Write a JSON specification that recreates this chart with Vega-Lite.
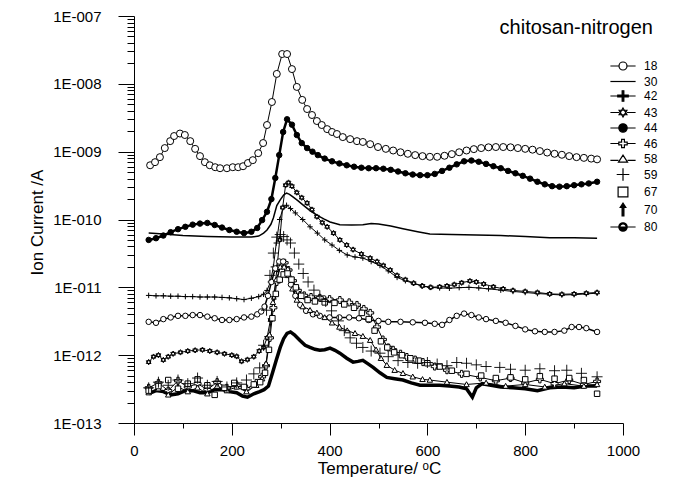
{
"$schema":"https://vega.github.io/schema/vega-lite/v6.json",
"autosize":{"type":"none"},
"padding":{"left":134,"top":16,"right":57,"bottom":59},
"width":489,"height":407,
"background":"white",
"config":{"view":{"stroke":null},"font":"Liberation Sans",
 "legend":{"labelColor":"#000000","labelFont":"Liberation Sans"},
 "axis":{"grid":false,"domainColor":"black","tickColor":"black","labelColor":"black","titleColor":"black","labelFont":"Liberation Sans","titleFont":"Liberation Sans","titleFontWeight":"normal","labelFontSize":15,"titleFontSize":17,"domainWidth":1,"tickWidth":1}},
"title":{"text":"chitosan-nitrogen","anchor":"end","frame":"group","font":"Liberation Sans","fontSize":20,"fontWeight":"normal","color":"black","dx":30,"dy":45,"offset":0,"baseline":"alphabetic"},
"data":{"values":[
{"series":"18","temp":33,"current":6.3e-10},{"series":"18","temp":43,"current":7.0e-10},{"series":"18","temp":53,"current":8.3e-10},{"series":"18","temp":63,"current":1.13e-9},{"series":"18","temp":74,"current":1.43e-9},{"series":"18","temp":82,"current":1.7e-9},{"series":"18","temp":94,"current":1.85e-9},{"series":"18","temp":104,"current":1.76e-9},{"series":"18","temp":115,"current":1.43e-9},{"series":"18","temp":125,"current":1.1e-9},{"series":"18","temp":135,"current":8.6e-10},{"series":"18","temp":145,"current":7.0e-10},{"series":"18","temp":155,"current":6.3e-10},{"series":"18","temp":166,"current":5.9e-10},{"series":"18","temp":176,"current":5.7e-10},{"series":"18","temp":190,"current":5.7e-10},{"series":"18","temp":202,"current":5.9e-10},{"series":"18","temp":213,"current":5.9e-10},{"series":"18","temp":223,"current":6.1e-10},{"series":"18","temp":233,"current":6.8e-10},{"series":"18","temp":243,"current":7.5e-10},{"series":"18","temp":254,"current":9.5e-10},{"series":"18","temp":264,"current":1.34e-9},{"series":"18","temp":272,"current":2.47e-9},{"series":"18","temp":282,"current":5.4e-9},{"series":"18","temp":292,"current":1.4e-8},{"series":"18","temp":303,"current":2.75e-8},{"series":"18","temp":313,"current":2.75e-8},{"series":"18","temp":323,"current":1.65e-8},{"series":"18","temp":333,"current":9.0e-9},{"series":"18","temp":344,"current":5.8e-9},{"series":"18","temp":354,"current":4.25e-9},{"series":"18","temp":364,"current":3.47e-9},{"series":"18","temp":374,"current":2.83e-9},{"series":"18","temp":384,"current":2.47e-9},{"series":"18","temp":395,"current":2.15e-9},{"series":"18","temp":405,"current":1.95e-9},{"series":"18","temp":415,"current":1.82e-9},{"series":"18","temp":427,"current":1.64e-9},{"series":"18","temp":442,"current":1.53e-9},{"series":"18","temp":456,"current":1.43e-9},{"series":"18","temp":468,"current":1.39e-9},{"series":"18","temp":483,"current":1.29e-9},{"series":"18","temp":499,"current":1.17e-9},{"series":"18","temp":515,"current":1.1e-9},{"series":"18","temp":530,"current":1.04e-9},{"series":"18","temp":545,"current":9.8e-10},{"series":"18","temp":560,"current":9.3e-10},{"series":"18","temp":575,"current":8.9e-10},{"series":"18","temp":590,"current":8.6e-10},{"series":"18","temp":605,"current":8.4e-10},{"series":"18","temp":620,"current":8.4e-10},{"series":"18","temp":635,"current":8.7e-10},{"series":"18","temp":650,"current":9.2e-10},{"series":"18","temp":665,"current":9.8e-10},{"series":"18","temp":680,"current":1.04e-9},{"series":"18","temp":695,"current":1.09e-9},{"series":"18","temp":710,"current":1.13e-9},{"series":"18","temp":725,"current":1.16e-9},{"series":"18","temp":740,"current":1.17e-9},{"series":"18","temp":755,"current":1.17e-9},{"series":"18","temp":770,"current":1.16e-9},{"series":"18","temp":785,"current":1.13e-9},{"series":"18","temp":800,"current":1.1e-9},{"series":"18","temp":815,"current":1.07e-9},{"series":"18","temp":830,"current":1.02e-9},{"series":"18","temp":845,"current":9.7e-10},{"series":"18","temp":860,"current":9.3e-10},{"series":"18","temp":875,"current":9.0e-10},{"series":"18","temp":890,"current":8.6e-10},{"series":"18","temp":905,"current":8.3e-10},{"series":"18","temp":920,"current":8.1e-10},{"series":"18","temp":935,"current":7.9e-10},{"series":"18","temp":947,"current":7.7e-10},
{"series":"44","temp":30,"current":5.0e-11},{"series":"44","temp":45,"current":5.3e-11},{"series":"44","temp":60,"current":5.8e-11},{"series":"44","temp":75,"current":6.5e-11},{"series":"44","temp":90,"current":7.2e-11},{"series":"44","temp":105,"current":7.8e-11},{"series":"44","temp":120,"current":8.4e-11},{"series":"44","temp":135,"current":8.7e-11},{"series":"44","temp":150,"current":8.9e-11},{"series":"44","temp":165,"current":8.3e-11},{"series":"44","temp":180,"current":7.6e-11},{"series":"44","temp":195,"current":7.0e-11},{"series":"44","temp":210,"current":6.6e-11},{"series":"44","temp":225,"current":6.3e-11},{"series":"44","temp":240,"current":6.6e-11},{"series":"44","temp":252,"current":7.5e-11},{"series":"44","temp":262,"current":9.8e-11},{"series":"44","temp":272,"current":1.3e-10},{"series":"44","temp":281,"current":2.0e-10},{"series":"44","temp":289,"current":4.1e-10},{"series":"44","temp":297,"current":8.9e-10},{"series":"44","temp":305,"current":1.95e-9},{"series":"44","temp":313,"current":3.0e-9},{"series":"44","temp":323,"current":2.5e-9},{"series":"44","temp":333,"current":1.76e-9},{"series":"44","temp":343,"current":1.34e-9},{"series":"44","temp":354,"current":1.13e-9},{"series":"44","temp":365,"current":1.0e-9},{"series":"44","temp":376,"current":8.9e-10},{"series":"44","temp":390,"current":7.9e-10},{"series":"44","temp":405,"current":7.2e-10},{"series":"44","temp":420,"current":6.7e-10},{"series":"44","temp":435,"current":6.3e-10},{"series":"44","temp":450,"current":6.0e-10},{"series":"44","temp":465,"current":5.8e-10},{"series":"44","temp":480,"current":5.7e-10},{"series":"44","temp":495,"current":5.7e-10},{"series":"44","temp":510,"current":5.6e-10},{"series":"44","temp":525,"current":5.4e-10},{"series":"44","temp":540,"current":5.1e-10},{"series":"44","temp":555,"current":4.8e-10},{"series":"44","temp":570,"current":4.6e-10},{"series":"44","temp":585,"current":4.5e-10},{"series":"44","temp":600,"current":4.5e-10},{"series":"44","temp":615,"current":4.7e-10},{"series":"44","temp":630,"current":5.2e-10},{"series":"44","temp":645,"current":5.8e-10},{"series":"44","temp":660,"current":6.5e-10},{"series":"44","temp":675,"current":7.2e-10},{"series":"44","temp":690,"current":7.4e-10},{"series":"44","temp":705,"current":7.1e-10},{"series":"44","temp":720,"current":6.6e-10},{"series":"44","temp":735,"current":6.1e-10},{"series":"44","temp":750,"current":5.7e-10},{"series":"44","temp":765,"current":5.2e-10},{"series":"44","temp":780,"current":4.8e-10},{"series":"44","temp":795,"current":4.4e-10},{"series":"44","temp":810,"current":4.0e-10},{"series":"44","temp":825,"current":3.6e-10},{"series":"44","temp":840,"current":3.3e-10},{"series":"44","temp":855,"current":3.1e-10},{"series":"44","temp":870,"current":3.05e-10},{"series":"44","temp":885,"current":3.1e-10},{"series":"44","temp":900,"current":3.2e-10},{"series":"44","temp":915,"current":3.3e-10},{"series":"44","temp":930,"current":3.4e-10},{"series":"44","temp":947,"current":3.6e-10},
{"series":"30","temp":30,"current":6.3e-11},{"series":"30","temp":60,"current":6.1e-11},{"series":"30","temp":100,"current":5.8e-11},{"series":"30","temp":150,"current":5.6e-11},{"series":"30","temp":200,"current":5.5e-11},{"series":"30","temp":240,"current":5.5e-11},{"series":"30","temp":255,"current":5.7e-11},{"series":"30","temp":265,"current":6.3e-11},{"series":"30","temp":272,"current":7.0e-11},{"series":"30","temp":280,"current":8.5e-11},{"series":"30","temp":285,"current":1.05e-10},{"series":"30","temp":292,"current":1.6e-10},{"series":"30","temp":299,"current":1.95e-10},{"series":"30","temp":306,"current":2.3e-10},{"series":"30","temp":312,"current":2.45e-10},{"series":"30","temp":318,"current":2.35e-10},{"series":"30","temp":325,"current":2.15e-10},{"series":"30","temp":335,"current":1.9e-10},{"series":"30","temp":346,"current":1.63e-10},{"series":"30","temp":360,"current":1.35e-10},{"series":"30","temp":374,"current":1.16e-10},{"series":"30","temp":388,"current":1.02e-10},{"series":"30","temp":401,"current":9.2e-11},{"series":"30","temp":421,"current":8.4e-11},{"series":"30","temp":445,"current":8.3e-11},{"series":"30","temp":468,"current":8.4e-11},{"series":"30","temp":485,"current":8.7e-11},{"series":"30","temp":500,"current":8.6e-11},{"series":"30","temp":525,"current":8.0e-11},{"series":"30","temp":550,"current":7.3e-11},{"series":"30","temp":580,"current":6.6e-11},{"series":"30","temp":605,"current":6.1e-11},{"series":"30","temp":650,"current":6.0e-11},{"series":"30","temp":700,"current":5.9e-11},{"series":"30","temp":750,"current":5.8e-11},{"series":"30","temp":800,"current":5.6e-11},{"series":"30","temp":850,"current":5.4e-11},{"series":"30","temp":900,"current":5.4e-11},{"series":"30","temp":947,"current":5.3e-11},
{"series":"42","temp":30,"current":7.6e-12},{"series":"42","temp":45,"current":7.5e-12},{"series":"42","temp":60,"current":7.5e-12},{"series":"42","temp":75,"current":7.4e-12},{"series":"42","temp":90,"current":7.4e-12},{"series":"42","temp":105,"current":7.3e-12},{"series":"42","temp":120,"current":7.3e-12},{"series":"42","temp":135,"current":7.2e-12},{"series":"42","temp":150,"current":7.2e-12},{"series":"42","temp":165,"current":7.2e-12},{"series":"42","temp":180,"current":7.1e-12},{"series":"42","temp":195,"current":7.0e-12},{"series":"42","temp":210,"current":6.8e-12},{"series":"42","temp":225,"current":6.6e-12},{"series":"42","temp":240,"current":6.9e-12},{"series":"42","temp":255,"current":7.3e-12},{"series":"42","temp":265,"current":7.9e-12},{"series":"42","temp":272,"current":9.0e-12},{"series":"42","temp":279,"current":1.2e-11},{"series":"42","temp":285,"current":2.0e-11},{"series":"42","temp":291,"current":4.5e-11},{"series":"42","temp":298,"current":1.0e-10},{"series":"42","temp":305,"current":1.5e-10},{"series":"42","temp":312,"current":1.62e-10},{"series":"42","temp":320,"current":1.45e-10},{"series":"42","temp":330,"current":1.25e-10},{"series":"42","temp":345,"current":1.0e-10},{"series":"42","temp":360,"current":7.8e-11},{"series":"42","temp":375,"current":6.3e-11},{"series":"42","temp":390,"current":5.0e-11},{"series":"42","temp":405,"current":4.2e-11},{"series":"42","temp":420,"current":3.5e-11},{"series":"42","temp":436,"current":3.0e-11},{"series":"42","temp":452,"current":2.8e-11},{"series":"42","temp":468,"current":2.7e-11},{"series":"42","temp":485,"current":2.4e-11},{"series":"42","temp":503,"current":2.1e-11},{"series":"42","temp":520,"current":1.75e-11},{"series":"42","temp":538,"current":1.4e-11},{"series":"42","temp":555,"current":1.25e-11},{"series":"42","temp":571,"current":1.15e-11},{"series":"42","temp":588,"current":1.05e-11},{"series":"42","temp":605,"current":1.0e-11},{"series":"42","temp":625,"current":9.8e-12},{"series":"42","temp":645,"current":9.7e-12},{"series":"42","temp":665,"current":9.9e-12},{"series":"42","temp":685,"current":1.0e-11},{"series":"42","temp":705,"current":9.8e-12},{"series":"42","temp":725,"current":9.5e-12},{"series":"42","temp":750,"current":9.1e-12},{"series":"42","temp":775,"current":8.7e-12},{"series":"42","temp":800,"current":8.4e-12},{"series":"42","temp":825,"current":8.1e-12},{"series":"42","temp":850,"current":7.9e-12},{"series":"42","temp":875,"current":7.7e-12},{"series":"42","temp":900,"current":7.8e-12},{"series":"42","temp":925,"current":8.0e-12},{"series":"42","temp":947,"current":8.2e-12},
{"series":"43","temp":30,"current":7.9e-13},{"series":"43","temp":40,"current":9.5e-13},{"series":"43","temp":50,"current":1.0e-12},{"series":"43","temp":60,"current":8.5e-13},{"series":"43","temp":70,"current":9.5e-13},{"series":"43","temp":80,"current":1.05e-12},{"series":"43","temp":95,"current":1.1e-12},{"series":"43","temp":110,"current":1.15e-12},{"series":"43","temp":125,"current":1.18e-12},{"series":"43","temp":140,"current":1.2e-12},{"series":"43","temp":155,"current":1.15e-12},{"series":"43","temp":170,"current":1.1e-12},{"series":"43","temp":185,"current":1.05e-12},{"series":"43","temp":200,"current":1.0e-12},{"series":"43","temp":210,"current":9.6e-13},{"series":"43","temp":220,"current":8.1e-13},{"series":"43","temp":232,"current":8.6e-13},{"series":"43","temp":245,"current":9.5e-13},{"series":"43","temp":256,"current":1.15e-12},{"series":"43","temp":265,"current":1.3e-12},{"series":"43","temp":272,"current":1.8e-12},{"series":"43","temp":279,"current":3.3e-12},{"series":"43","temp":286,"current":7.0e-12},{"series":"43","temp":292,"current":1.8e-11},{"series":"43","temp":298,"current":5.0e-11},{"series":"43","temp":304,"current":1.5e-10},{"series":"43","temp":310,"current":3.2e-10},{"series":"43","temp":316,"current":3.5e-10},{"series":"43","temp":323,"current":3.1e-10},{"series":"43","temp":333,"current":2.5e-10},{"series":"43","temp":343,"current":2.1e-10},{"series":"43","temp":354,"current":1.75e-10},{"series":"43","temp":364,"current":1.4e-10},{"series":"43","temp":374,"current":1.1e-10},{"series":"43","temp":385,"current":9.0e-11},{"series":"43","temp":395,"current":7.8e-11},{"series":"43","temp":408,"current":6.3e-11},{"series":"43","temp":421,"current":5.0e-11},{"series":"43","temp":435,"current":4.2e-11},{"series":"43","temp":448,"current":3.6e-11},{"series":"43","temp":465,"current":3.1e-11},{"series":"43","temp":483,"current":2.7e-11},{"series":"43","temp":497,"current":2.4e-11},{"series":"43","temp":510,"current":2.1e-11},{"series":"43","temp":524,"current":1.8e-11},{"series":"43","temp":538,"current":1.5e-11},{"series":"43","temp":555,"current":1.3e-11},{"series":"43","temp":572,"current":1.15e-11},{"series":"43","temp":590,"current":1.05e-11},{"series":"43","temp":607,"current":1.0e-11},{"series":"43","temp":625,"current":1.02e-11},{"series":"43","temp":640,"current":1.05e-11},{"series":"43","temp":655,"current":1.1e-11},{"series":"43","temp":670,"current":1.17e-11},{"series":"43","temp":687,"current":1.24e-11},{"series":"43","temp":700,"current":1.2e-11},{"series":"43","temp":715,"current":1.12e-11},{"series":"43","temp":735,"current":1.02e-11},{"series":"43","temp":755,"current":9.5e-12},{"series":"43","temp":775,"current":9.0e-12},{"series":"43","temp":800,"current":8.7e-12},{"series":"43","temp":825,"current":8.4e-12},{"series":"43","temp":850,"current":8.0e-12},{"series":"43","temp":875,"current":7.9e-12},{"series":"43","temp":900,"current":8.0e-12},{"series":"43","temp":925,"current":8.2e-12},{"series":"43","temp":947,"current":8.4e-12},
{"series":"80","temp":30,"current":3.1e-12},{"series":"80","temp":45,"current":3.0e-12},{"series":"80","temp":60,"current":3.4e-12},{"series":"80","temp":75,"current":3.6e-12},{"series":"80","temp":90,"current":3.8e-12},{"series":"80","temp":105,"current":3.8e-12},{"series":"80","temp":120,"current":3.9e-12},{"series":"80","temp":135,"current":3.9e-12},{"series":"80","temp":150,"current":3.7e-12},{"series":"80","temp":165,"current":3.5e-12},{"series":"80","temp":180,"current":3.3e-12},{"series":"80","temp":195,"current":3.3e-12},{"series":"80","temp":210,"current":3.4e-12},{"series":"80","temp":225,"current":3.6e-12},{"series":"80","temp":240,"current":3.7e-12},{"series":"80","temp":252,"current":4.0e-12},{"series":"80","temp":260,"current":4.4e-12},{"series":"80","temp":267,"current":5.2e-12},{"series":"80","temp":274,"current":7.5e-12},{"series":"80","temp":281,"current":1.2e-11},{"series":"80","temp":289,"current":1.9e-11},{"series":"80","temp":297,"current":2.4e-11},{"series":"80","temp":305,"current":2.4e-11},{"series":"80","temp":313,"current":1.8e-11},{"series":"80","temp":321,"current":1.1e-11},{"series":"80","temp":330,"current":7.5e-12},{"series":"80","temp":340,"current":5.5e-12},{"series":"80","temp":352,"current":4.5e-12},{"series":"80","temp":366,"current":4.0e-12},{"series":"80","temp":380,"current":3.8e-12},{"series":"80","temp":400,"current":3.6e-12},{"series":"80","temp":420,"current":3.6e-12},{"series":"80","temp":440,"current":3.6e-12},{"series":"80","temp":460,"current":3.5e-12},{"series":"80","temp":480,"current":3.3e-12},{"series":"80","temp":500,"current":3.2e-12},{"series":"80","temp":520,"current":3.1e-12},{"series":"80","temp":545,"current":3.1e-12},{"series":"80","temp":570,"current":3.05e-12},{"series":"80","temp":595,"current":3.0e-12},{"series":"80","temp":615,"current":2.9e-12},{"series":"80","temp":630,"current":2.8e-12},{"series":"80","temp":645,"current":3.3e-12},{"series":"80","temp":660,"current":3.8e-12},{"series":"80","temp":675,"current":4.1e-12},{"series":"80","temp":690,"current":3.9e-12},{"series":"80","temp":705,"current":3.6e-12},{"series":"80","temp":720,"current":3.4e-12},{"series":"80","temp":740,"current":3.2e-12},{"series":"80","temp":760,"current":3.0e-12},{"series":"80","temp":780,"current":2.7e-12},{"series":"80","temp":800,"current":2.4e-12},{"series":"80","temp":820,"current":2.25e-12},{"series":"80","temp":840,"current":2.2e-12},{"series":"80","temp":860,"current":2.2e-12},{"series":"80","temp":880,"current":2.3e-12},{"series":"80","temp":895,"current":2.6e-12},{"series":"80","temp":910,"current":2.6e-12},{"series":"80","temp":925,"current":2.5e-12},{"series":"80","temp":947,"current":2.2e-12},
{"series":"46","temp":30,"current":3.3e-13},{"series":"46","temp":50,"current":3.9e-13},{"series":"46","temp":70,"current":3.0e-13},{"series":"46","temp":90,"current":4.2e-13},{"series":"46","temp":110,"current":3.4e-13},{"series":"46","temp":130,"current":3.8e-13},{"series":"46","temp":150,"current":3.1e-13},{"series":"46","temp":170,"current":4.0e-13},{"series":"46","temp":190,"current":3.3e-13},{"series":"46","temp":210,"current":3.6e-13},{"series":"46","temp":230,"current":3.2e-13},{"series":"46","temp":250,"current":3.9e-13},{"series":"46","temp":262,"current":4.8e-13},{"series":"46","temp":270,"current":7.0e-13},{"series":"46","temp":278,"current":1.8e-12},{"series":"46","temp":285,"current":5.0e-12},{"series":"46","temp":292,"current":1.2e-11},{"series":"46","temp":300,"current":2.2e-11},{"series":"46","temp":308,"current":2.3e-11},{"series":"46","temp":316,"current":1.8e-11},{"series":"46","temp":325,"current":1.25e-11},{"series":"46","temp":335,"current":9.0e-12},{"series":"46","temp":348,"current":7.6e-12},{"series":"46","temp":362,"current":7.2e-12},{"series":"46","temp":380,"current":7.0e-12},{"series":"46","temp":400,"current":6.7e-12},{"series":"46","temp":421,"current":6.5e-12},{"series":"46","temp":440,"current":6.0e-12},{"series":"46","temp":456,"current":5.5e-12},{"series":"46","temp":470,"current":4.8e-12},{"series":"46","temp":483,"current":4.2e-12},{"series":"46","temp":497,"current":2.6e-12},{"series":"46","temp":509,"current":1.7e-12},{"series":"46","temp":520,"current":1.3e-12},{"series":"46","temp":530,"current":1.2e-12},{"series":"46","temp":545,"current":1.05e-12},{"series":"46","temp":558,"current":9.4e-13},{"series":"46","temp":575,"current":8.6e-13},{"series":"46","temp":591,"current":7.9e-13},{"series":"46","temp":615,"current":6.8e-13},{"series":"46","temp":640,"current":6.0e-13},{"series":"46","temp":670,"current":5.3e-13},{"series":"46","temp":708,"current":4.7e-13},{"series":"46","temp":740,"current":4.2e-13},{"series":"46","temp":770,"current":4.6e-13},{"series":"46","temp":800,"current":3.9e-13},{"series":"46","temp":830,"current":4.4e-13},{"series":"46","temp":860,"current":3.8e-13},{"series":"46","temp":890,"current":4.3e-13},{"series":"46","temp":920,"current":3.7e-13},{"series":"46","temp":947,"current":4.1e-13},
{"series":"58","temp":30,"current":2.8e-13},{"series":"58","temp":50,"current":3.2e-13},{"series":"58","temp":70,"current":2.6e-13},{"series":"58","temp":90,"current":3.4e-13},{"series":"58","temp":110,"current":2.9e-13},{"series":"58","temp":130,"current":3.3e-13},{"series":"58","temp":150,"current":2.7e-13},{"series":"58","temp":170,"current":3.5e-13},{"series":"58","temp":190,"current":3.0e-13},{"series":"58","temp":210,"current":3.4e-13},{"series":"58","temp":230,"current":2.9e-13},{"series":"58","temp":250,"current":3.6e-13},{"series":"58","temp":262,"current":4.5e-13},{"series":"58","temp":270,"current":7.5e-13},{"series":"58","temp":277,"current":2.0e-12},{"series":"58","temp":284,"current":6.0e-12},{"series":"58","temp":291,"current":1.3e-11},{"series":"58","temp":299,"current":2.0e-11},{"series":"58","temp":307,"current":2.0e-11},{"series":"58","temp":315,"current":1.5e-11},{"series":"58","temp":324,"current":9.5e-12},{"series":"58","temp":333,"current":6.5e-12},{"series":"58","temp":345,"current":5.2e-12},{"series":"58","temp":360,"current":4.6e-12},{"series":"58","temp":374,"current":4.2e-12},{"series":"58","temp":390,"current":3.6e-12},{"series":"58","temp":405,"current":3.0e-12},{"series":"58","temp":420,"current":2.6e-12},{"series":"58","temp":436,"current":2.3e-12},{"series":"58","temp":452,"current":2.1e-12},{"series":"58","temp":468,"current":1.9e-12},{"series":"58","temp":483,"current":1.66e-12},{"series":"58","temp":495,"current":1.2e-12},{"series":"58","temp":505,"current":9.0e-13},{"series":"58","temp":517,"current":7.1e-13},{"series":"58","temp":533,"current":6.0e-13},{"series":"58","temp":550,"current":5.4e-13},{"series":"58","temp":570,"current":4.8e-13},{"series":"58","temp":590,"current":4.4e-13},{"series":"58","temp":605,"current":4.3e-13},{"series":"58","temp":640,"current":4.0e-13},{"series":"58","temp":680,"current":3.7e-13},{"series":"58","temp":720,"current":3.9e-13},{"series":"58","temp":760,"current":3.5e-13},{"series":"58","temp":800,"current":3.7e-13},{"series":"58","temp":840,"current":3.4e-13},{"series":"58","temp":880,"current":3.8e-13},{"series":"58","temp":920,"current":3.5e-13},{"series":"58","temp":947,"current":3.7e-13},
{"series":"59","temp":30,"current":3.3e-13},{"series":"59","temp":50,"current":4.0e-13},{"series":"59","temp":70,"current":3.6e-13},{"series":"59","temp":90,"current":4.3e-13},{"series":"59","temp":110,"current":3.8e-13},{"series":"59","temp":130,"current":4.6e-13},{"series":"59","temp":150,"current":3.6e-13},{"series":"59","temp":170,"current":4.1e-13},{"series":"59","temp":190,"current":3.4e-13},{"series":"59","temp":210,"current":3.9e-13},{"series":"59","temp":230,"current":4.3e-13},{"series":"59","temp":245,"current":5.3e-13},{"series":"59","temp":257,"current":6.5e-13},{"series":"59","temp":265,"current":1.4e-12},{"series":"59","temp":271,"current":4.6e-12},{"series":"59","temp":278,"current":1.5e-11},{"series":"59","temp":285,"current":3.2e-11},{"series":"59","temp":292,"current":5.5e-11},{"series":"59","temp":299,"current":6.0e-11},{"series":"59","temp":306,"current":5.6e-11},{"series":"59","temp":313,"current":5.0e-11},{"series":"59","temp":320,"current":4.5e-11},{"series":"59","temp":328,"current":3.2e-11},{"series":"59","temp":337,"current":2.2e-11},{"series":"59","temp":346,"current":1.6e-11},{"series":"59","temp":356,"current":1.2e-11},{"series":"59","temp":368,"current":9.1e-12},{"series":"59","temp":380,"current":7.5e-12},{"series":"59","temp":392,"current":6.2e-12},{"series":"59","temp":404,"current":4.5e-12},{"series":"59","temp":418,"current":3.2e-12},{"series":"59","temp":430,"current":2.3e-12},{"series":"59","temp":442,"current":1.8e-12},{"series":"59","temp":455,"current":1.5e-12},{"series":"59","temp":468,"current":1.3e-12},{"series":"59","temp":485,"current":1.15e-12},{"series":"59","temp":503,"current":1.07e-12},{"series":"59","temp":520,"current":9.5e-13},{"series":"59","temp":540,"current":8.3e-13},{"series":"59","temp":560,"current":7.8e-13},{"series":"59","temp":580,"current":7.6e-13},{"series":"59","temp":600,"current":7.8e-13},{"series":"59","temp":620,"current":7.4e-13},{"series":"59","temp":640,"current":7.0e-13},{"series":"59","temp":660,"current":7.8e-13},{"series":"59","temp":680,"current":7.6e-13},{"series":"59","temp":700,"current":7.2e-13},{"series":"59","temp":720,"current":6.8e-13},{"series":"59","temp":748,"current":6.6e-13},{"series":"59","temp":770,"current":6.2e-13},{"series":"59","temp":800,"current":6.0e-13},{"series":"59","temp":830,"current":6.3e-13},{"series":"59","temp":860,"current":5.9e-13},{"series":"59","temp":885,"current":6.0e-13},{"series":"59","temp":915,"current":5.4e-13},{"series":"59","temp":947,"current":4.8e-13},
{"series":"67","temp":30,"current":3.0e-13},{"series":"67","temp":50,"current":3.5e-13},{"series":"67","temp":70,"current":4.3e-13},{"series":"67","temp":90,"current":3.2e-13},{"series":"67","temp":110,"current":3.8e-13},{"series":"67","temp":130,"current":4.4e-13},{"series":"67","temp":150,"current":3.6e-13},{"series":"67","temp":165,"current":2.6e-13},{"series":"67","temp":185,"current":3.3e-13},{"series":"67","temp":205,"current":3.9e-13},{"series":"67","temp":225,"current":3.4e-13},{"series":"67","temp":245,"current":3.7e-13},{"series":"67","temp":258,"current":4.0e-13},{"series":"67","temp":268,"current":5.5e-13},{"series":"67","temp":276,"current":1.2e-12},{"series":"67","temp":283,"current":3.5e-12},{"series":"67","temp":290,"current":8.0e-12},{"series":"67","temp":298,"current":1.3e-11},{"series":"67","temp":306,"current":1.55e-11},{"series":"67","temp":314,"current":1.6e-11},{"series":"67","temp":322,"current":1.3e-11},{"series":"67","temp":331,"current":1.0e-11},{"series":"67","temp":342,"current":7.5e-12},{"series":"67","temp":355,"current":6.5e-12},{"series":"67","temp":370,"current":6.2e-12},{"series":"67","temp":390,"current":6.0e-12},{"series":"67","temp":410,"current":5.9e-12},{"series":"67","temp":430,"current":5.6e-12},{"series":"67","temp":450,"current":5.0e-12},{"series":"67","temp":466,"current":4.2e-12},{"series":"67","temp":480,"current":3.4e-12},{"series":"67","temp":492,"current":2.3e-12},{"series":"67","temp":505,"current":1.6e-12},{"series":"67","temp":518,"current":1.3e-12},{"series":"67","temp":532,"current":1.1e-12},{"series":"67","temp":548,"current":1.0e-12},{"series":"67","temp":565,"current":9.0e-13},{"series":"67","temp":582,"current":8.3e-13},{"series":"67","temp":600,"current":7.6e-13},{"series":"67","temp":625,"current":6.8e-13},{"series":"67","temp":650,"current":5.9e-13},{"series":"67","temp":680,"current":5.3e-13},{"series":"67","temp":710,"current":5.0e-13},{"series":"67","temp":740,"current":4.6e-13},{"series":"67","temp":770,"current":4.7e-13},{"series":"67","temp":800,"current":4.4e-13},{"series":"67","temp":830,"current":4.9e-13},{"series":"67","temp":860,"current":4.5e-13},{"series":"67","temp":890,"current":4.6e-13},{"series":"67","temp":920,"current":4.3e-13},{"series":"67","temp":947,"current":2.7e-13},
{"series":"70","temp":30,"current":2.7e-13},{"series":"70","temp":45,"current":3.0e-13},{"series":"70","temp":60,"current":2.9e-13},{"series":"70","temp":75,"current":2.6e-13},{"series":"70","temp":90,"current":2.7e-13},{"series":"70","temp":105,"current":3.0e-13},{"series":"70","temp":120,"current":3.0e-13},{"series":"70","temp":135,"current":2.8e-13},{"series":"70","temp":150,"current":2.8e-13},{"series":"70","temp":165,"current":3.1e-13},{"series":"70","temp":180,"current":3.1e-13},{"series":"70","temp":195,"current":2.9e-13},{"series":"70","temp":210,"current":2.8e-13},{"series":"70","temp":222,"current":2.5e-13},{"series":"70","temp":232,"current":2.4e-13},{"series":"70","temp":245,"current":2.7e-13},{"series":"70","temp":257,"current":2.9e-13},{"series":"70","temp":266,"current":3.1e-13},{"series":"70","temp":275,"current":3.5e-13},{"series":"70","temp":283,"current":5.4e-13},{"series":"70","temp":291,"current":8.5e-13},{"series":"70","temp":299,"current":1.3e-12},{"series":"70","temp":306,"current":1.75e-12},{"series":"70","temp":313,"current":2.1e-12},{"series":"70","temp":320,"current":2.2e-12},{"series":"70","temp":328,"current":2.0e-12},{"series":"70","temp":339,"current":1.66e-12},{"series":"70","temp":350,"current":1.4e-12},{"series":"70","temp":360,"current":1.3e-12},{"series":"70","temp":370,"current":1.22e-12},{"series":"70","temp":380,"current":1.18e-12},{"series":"70","temp":390,"current":1.2e-12},{"series":"70","temp":401,"current":1.27e-12},{"series":"70","temp":411,"current":1.18e-12},{"series":"70","temp":421,"current":1.07e-12},{"series":"70","temp":435,"current":9.0e-13},{"series":"70","temp":448,"current":7.9e-13},{"series":"70","temp":458,"current":8.1e-13},{"series":"70","temp":468,"current":8.4e-13},{"series":"70","temp":478,"current":7.5e-13},{"series":"70","temp":489,"current":6.6e-13},{"series":"70","temp":503,"current":5.5e-13},{"series":"70","temp":517,"current":4.7e-13},{"series":"70","temp":533,"current":4.5e-13},{"series":"70","temp":550,"current":4.3e-13},{"series":"70","temp":567,"current":3.9e-13},{"series":"70","temp":585,"current":3.6e-13},{"series":"70","temp":605,"current":3.6e-13},{"series":"70","temp":625,"current":3.6e-13},{"series":"70","temp":645,"current":3.5e-13},{"series":"70","temp":665,"current":3.4e-13},{"series":"70","temp":680,"current":3.2e-13},{"series":"70","temp":692,"current":2.4e-13},{"series":"70","temp":700,"current":3.3e-13},{"series":"70","temp":712,"current":3.8e-13},{"series":"70","temp":730,"current":3.6e-13},{"series":"70","temp":750,"current":3.4e-13},{"series":"70","temp":775,"current":3.3e-13},{"series":"70","temp":800,"current":3.2e-13},{"series":"70","temp":825,"current":3.0e-13},{"series":"70","temp":850,"current":3.3e-13},{"series":"70","temp":875,"current":3.4e-13},{"series":"70","temp":900,"current":3.3e-13},{"series":"70","temp":925,"current":3.5e-13},{"series":"70","temp":947,"current":3.5e-13}
]},
"encoding":{
 "x":{"field":"temp","type":"quantitative","scale":{"domain":[0,1000],"nice":false},
  "axis":{"title":"Temperature/ ᵒC","values":[0,100,200,300,400,500,600,700,800,900,1000],"format":"d","labelExpr":"datum.value % 200 === 0 ? datum.label : ''","tickSize":{"condition":{"test":"datum.value % 200 === 0","value":12},"value":5},"labelPadding":8,"labelOverlap":false,"labelFlush":false,"titleX":245,"titleY":50,"titleBaseline":"alphabetic","titleAnchor":"middle","titleAlign":"center"}},
 "y":{"field":"current","type":"quantitative","scale":{"type":"log","domain":[1e-13,1e-7],"nice":false},
  "axis":{"title":"Ion Current /A","values":[1e-13,2e-13,3e-13,4e-13,5e-13,6e-13,7e-13,8e-13,9e-13,1e-12,2e-12,3e-12,4e-12,5e-12,6e-12,7e-12,8e-12,9e-12,1e-11,2e-11,3e-11,4e-11,5e-11,6e-11,7e-11,8e-11,9e-11,1e-10,2e-10,3e-10,4e-10,5e-10,6e-10,7e-10,8e-10,9e-10,1e-9,2e-9,3e-9,4e-9,5e-9,6e-9,7e-9,8e-9,9e-9,1e-8,2e-8,3e-8,4e-8,5e-8,6e-8,7e-8,8e-8,9e-8,1e-7],
   "labelExpr":"abs(log(datum.value)/LN10 - round(log(datum.value)/LN10)) < 0.001 ? '1E-0' + format(-round(log(datum.value)/LN10), '02d') : ''",
   "tickSize":{"condition":{"test":"abs(log(datum.value)/LN10 - round(log(datum.value)/LN10)) < 0.001","value":16},"value":7},
   "labelPadding":17,"labelOverlap":false,"labelFlush":false,"titleX":-97,"titleY":206,"titleAngle":-90,"titleBaseline":"middle","titleAlign":"center"}}
},
"layer":[
 {"transform":[{"filter":{"field":"series","oneOf":["18","42","43","46","58"]}}],
  "mark":{"type":"line","color":"black","strokeWidth":1},
  "encoding":{"detail":{"field":"series","type":"nominal"}}},
 {"transform":[{"filter":{"field":"series","equal":"30"}}],
  "mark":{"type":"line","color":"black","strokeWidth":1.5},
  "encoding":{}},
 {"transform":[{"filter":{"field":"series","equal":"80"}}],
  "mark":{"type":"line","color":"black","strokeWidth":1.5},
  "encoding":{}},
 {"transform":[{"filter":{"field":"series","equal":"44"}}],
  "mark":{"type":"line","color":"black","strokeWidth":2.5},
  "encoding":{}},
 {"transform":[{"filter":{"field":"series","equal":"70"}}],
  "mark":{"type":"line","color":"black","strokeWidth":3.5},
  "encoding":{}},
 {"transform":[{"filter":{"field":"series","oneOf":["18","46"]}}],
  "mark":{"type":"point","filled":true,"stroke":"black","strokeWidth":1,"opacity":1,"size":49},
  "encoding":{
   "shape":{"field":"series","type":"nominal","legend":null,"scale":{"domain":["18","30","42","43","44","46","58","59","67","70","80"],"range":["circle","circle","M-1,0H1M0,-1V1","M0,-1L0.866,0.5H-0.866Z M0,1L-0.866,-0.5H0.866Z","circle","M-0.33,-1H0.33V-0.33H1V0.33H0.33V1H-0.33V0.33H-1V-0.33H-0.33Z","M0,-1L1,0.8H-1Z","M-1,0H1M0,-1V1","square","triangle-up","circle"]}},
   "fill":{"field":"series","type":"nominal","legend":null,"scale":{"domain":["18","30","42","43","44","46","58","59","67","70","80"],"range":["white","transparent","transparent","white","black","white","white","transparent","white","black","white"]}}}},
 {"transform":[{"filter":{"field":"series","oneOf":["42","43","44","58","67","80"]}}],
  "mark":{"type":"point","filled":true,"stroke":"black","strokeWidth":1,"opacity":1,"size":30},
  "encoding":{
   "shape":{"field":"series","type":"nominal","legend":null,"scale":{"domain":["18","30","42","43","44","46","58","59","67","70","80"],"range":["circle","circle","M-1,0H1M0,-1V1","M0,-1L0.866,0.5H-0.866Z M0,1L-0.866,-0.5H0.866Z","circle","M-0.33,-1H0.33V-0.33H1V0.33H0.33V1H-0.33V0.33H-1V-0.33H-0.33Z","M0,-1L1,0.8H-1Z","M-1,0H1M0,-1V1","square","triangle-up","circle"]}},
   "fill":{"field":"series","type":"nominal","legend":null,"scale":{"domain":["18","30","42","43","44","46","58","59","67","70","80"],"range":["white","transparent","transparent","white","black","white","white","transparent","white","black","white"]}}}},
 {"transform":[{"filter":{"field":"series","equal":"59"}}],
  "mark":{"type":"point","shape":"M-1,0H1M0,-1V1","filled":false,"stroke":"black","strokeWidth":0.9,"opacity":1,"size":121},
  "encoding":{}},
 {"transform":[{"filter":"false"}],
  "mark":{"type":"point","filled":true,"stroke":"black","strokeWidth":1.2,"opacity":1},
  "encoding":{
   "shape":{"field":"series","type":"nominal","scale":{"domain":["18","30","42","43","44","46","58","59","67","70","80"],"range":[
     "M-1.8,0H-0.57M0.57,0H1.8M-0.57,0A0.57,0.57,0,1,1,0.57,0A0.57,0.57,0,1,1,-0.57,0Z",
     "M-1.8,0H1.8",
     "M-1.8,0H1.8M-0.12,-0.75H0.12V0.75H-0.12Z M-0.75,-0.12H0.75V0.12H-0.75Z",
     "M-1.8,0H-0.55M0.55,0H1.8M0,-0.65L0.56,0.32H-0.56Z M0,0.65L-0.56,-0.32H0.56Z",
     "M-1.8,0H-0.6M0.6,0H1.8M-0.6,0A0.6,0.6,0,1,1,0.6,0A0.6,0.6,0,1,1,-0.6,0Z",
     "M-1.8,0H-0.6M0.6,0H1.8M-0.2,-0.6H0.2V-0.2H0.6V0.2H0.2V0.6H-0.2V0.2H-0.6V-0.2H-0.2Z",
     "M-1.8,0.2H-0.65M0.65,0.2H1.8M0,-0.55L0.65,0.45H-0.65Z",
     "M-0.9,0H0.9M0,-0.9V0.9",
     "M-0.7,-0.7H0.7V0.7H-0.7Z",
     "M0,-0.9L0.4,-0.3H0.13V0.9H-0.13V-0.3H-0.4Z",
     "M-1.8,0H-0.6M0.6,0H1.8M-0.6,0A0.6,0.6,0,1,1,0.6,0A0.6,0.6,0,1,1,-0.6,0Z M-0.45,0A0.45,0.45,0,1,0,0.45,0A0.45,0.45,0,1,0,-0.45,0Z M-0.45,0A0.45,0.45,0,0,0,0.45,0Z"]},
    "legend":{"title":null,"orient":"none","legendX":481,"legendY":42,"padding":0,"symbolSize":196,"symbolStrokeWidth":1.2,"symbolStrokeColor":"black","symbolOpacity":1,"labelFont":"Liberation Sans","labelFontSize":12,"labelColor":"#000000","labelOffset":13,"rowPadding":0.5,"labelBaseline":"middle",
     "encode":{"symbols":{"update":{"stroke":{"value":"black"},"strokeWidth":{"value":1.2},"opacity":{"value":1}}},"labels":{"update":{"fill":{"value":"#000000"},"opacity":{"value":1}}}}}},
   "fill":{"field":"series","type":"nominal","scale":{"domain":["18","30","42","43","44","46","58","59","67","70","80"],"range":["white","transparent","black","white","black","white","white","transparent","white","black","black"]},
    "legend":{"title":null,"orient":"none","legendX":481,"legendY":42,"padding":0,"symbolSize":196,"symbolStrokeWidth":1.2,"symbolStrokeColor":"black","symbolOpacity":1,"labelFont":"Liberation Sans","labelFontSize":12,"labelColor":"#000000","labelOffset":13,"rowPadding":0.5,"labelBaseline":"middle",
     "encode":{"symbols":{"update":{"stroke":{"value":"black"},"strokeWidth":{"value":1.2},"opacity":{"value":1}}},"labels":{"update":{"fill":{"value":"#000000"},"opacity":{"value":1}}}}}}}}
],
"resolve":{"scale":{"shape":"independent","fill":"independent"},"legend":{"shape":"independent","fill":"independent"}}
}
